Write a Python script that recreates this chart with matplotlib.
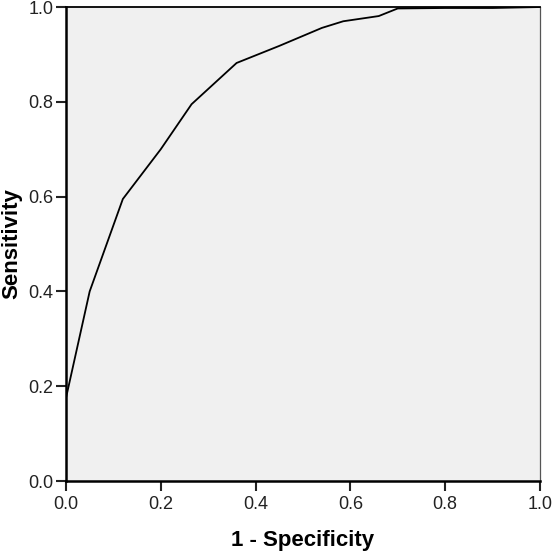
import matplotlib
matplotlib.use("Agg")
import matplotlib.pyplot as plt

# ROC curve points
fpr = [0.0, 0.0, 0.05, 0.12, 0.20, 0.265, 0.36, 0.45, 0.54, 0.585, 0.66, 0.70, 0.80, 0.90, 1.0]
tpr = [0.0, 0.175, 0.40, 0.595, 0.70, 0.795, 0.882, 0.918, 0.956, 0.970, 0.981, 0.997, 0.998, 0.998, 1.0]

ticks = [0.0, 0.2, 0.4, 0.6, 0.8, 1.0]
tick_labels = ["0.0", "0.2", "0.4", "0.6", "0.8", "1.0"]

plt.rcParams["font.family"] = ["Liberation Sans", "DejaVu Sans"]

fig = plt.figure(figsize=(5.53, 5.55), dpi=100)
ax = fig.add_axes([0.1193, 0.1333, 0.857, 0.854])
ax.set_facecolor("#f0f0f0")

ax.plot(fpr, tpr, color="black", linewidth=1.3, solid_joinstyle="miter")

ax.set_xlim(0, 1)
ax.set_ylim(0, 1)
ax.set_xticks(ticks)
ax.set_xticklabels(tick_labels)
ax.set_yticks(ticks)
ax.set_yticklabels(tick_labels)
ax.tick_params(direction="out", length=7, width=1.5, labelsize=13, colors="#222222", pad=2)
ax.tick_params(axis="x", pad=4)

for side in ["left", "bottom"]:
    ax.spines[side].set_linewidth(1.8)
ax.spines["top"].set_linewidth(1.3)
ax.spines["right"].set_linewidth(0.9)
ax.spines["right"].set_color("#555555")

ax.set_xlabel("1 - Specificity", fontsize=16, fontweight="bold", labelpad=12)
ax.set_ylabel("Sensitivity", fontsize=16, fontweight="bold", labelpad=4)

fig.savefig("out.png", dpi=100)
